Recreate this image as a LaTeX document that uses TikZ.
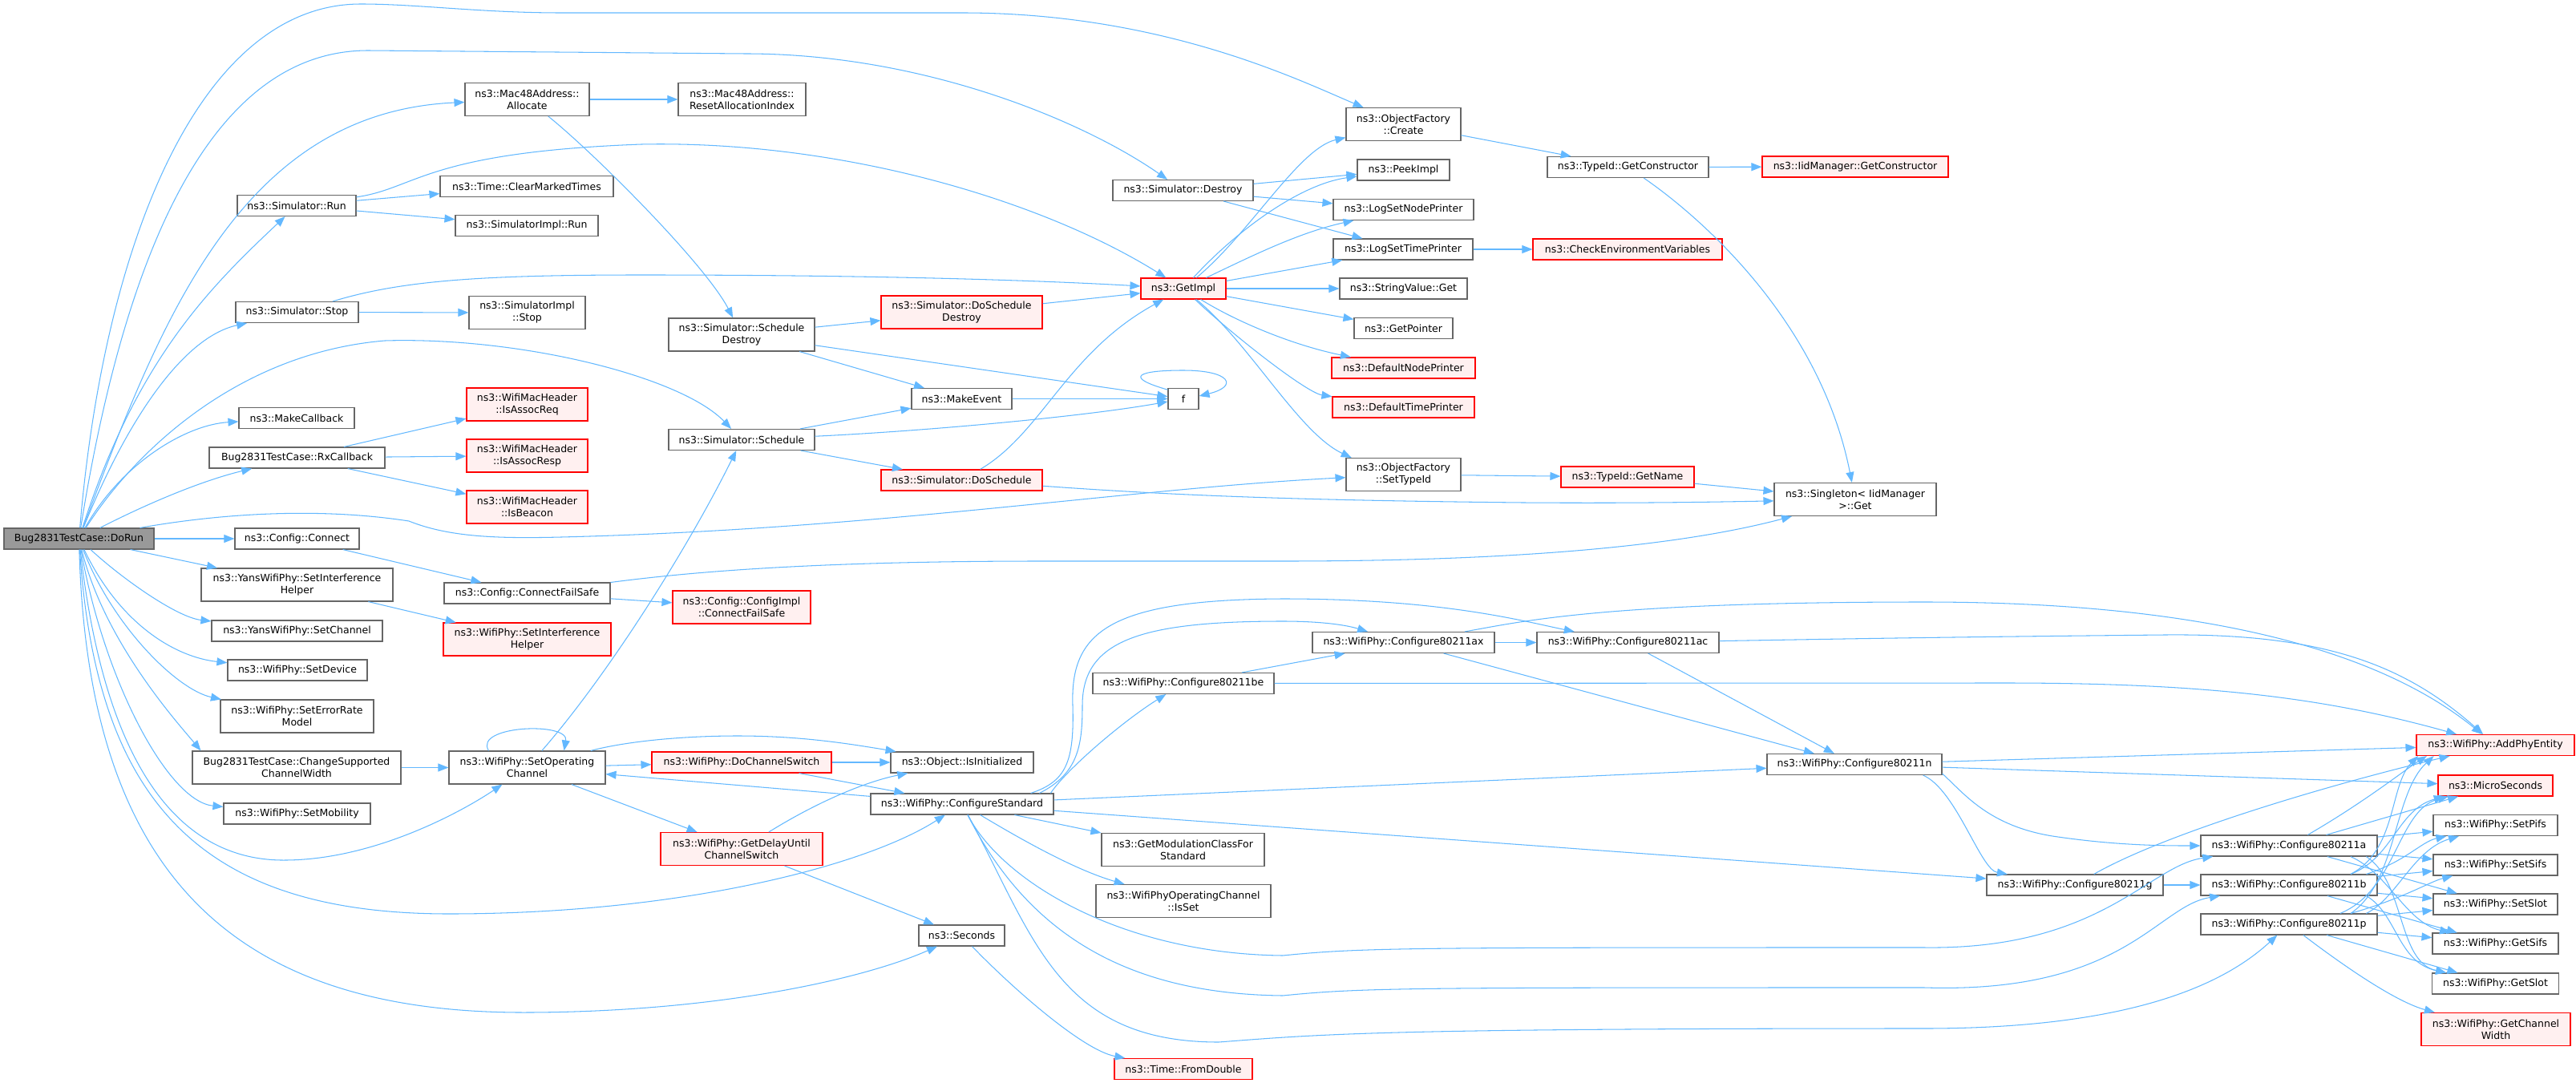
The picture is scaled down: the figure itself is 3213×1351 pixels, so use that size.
\documentclass[tikz,border=0pt]{standalone}
\usepackage{fontspec}
\newfontfamily\fnfont{DejaVu Sans}
\usetikzlibrary{positioning}
\usetikzlibrary{arrows.meta}
\usetikzlibrary{calc}
\definecolor{edge-blue}{HTML}{63B8FF}
\definecolor{node-gray}{HTML}{666666}
\definecolor{trunc-fill}{HTML}{FFF0F0}
\definecolor{root-fill}{HTML}{999999}
\tikzset{
  func-box/.style={draw=node-gray, fill=white, line width=1.1pt, minimum height=26pt,
    inner sep=1pt, align=center, font=\fnfont\fontsize{12.5}{15}\selectfont},
  func-trunc/.style={func-box, draw=red, fill=trunc-fill},
  func-root/.style={func-box, fill=root-fill},
  two-line/.style={minimum height=41pt},
  call-path/.style={draw=edge-blue, line width=1.05pt, -{Triangle[length=13pt,width=10pt]}},
}
\begin{document}
\begin{tikzpicture}[x=1pt, y=-1pt]
\useasboundingbox (0,0) rectangle (3213,1351);
% root
\node[func-root, minimum width=187pt] (dorun) at (98.5,672) {Bug2831TestCase::DoRun};
% second column
\node[func-box, minimum width=148pt] (simrun) at (370,256.5) {ns3::Simulator::Run};
\node[func-box, minimum width=153pt] (simstop) at (370.5,389.5) {ns3::Simulator::Stop};
\node[func-box, minimum width=144pt] (mkcb) at (370,521.5) {ns3::MakeCallback};
\node[func-box, minimum width=219pt] (rxcb) at (370.5,571) {Bug2831TestCase::RxCallback};
\node[func-box, minimum width=155pt] (connect) at (370.5,672) {ns3::Config::Connect};
\node[func-box, two-line, minimum width=239pt] (yanssih) at (370.5,729.5) {ns3::YansWifiPhy::SetInterference\\Helper};
\node[func-box, minimum width=213pt] (yanschan) at (370.5,787) {ns3::YansWifiPhy::SetChannel};
\node[func-box, minimum width=174pt] (setdev) at (371,836) {ns3::WifiPhy::SetDevice};
\node[func-box, two-line, minimum width=191pt] (seterr) at (370.5,893.5) {ns3::WifiPhy::SetErrorRate\\Model};
\node[func-box, two-line, minimum width=260pt] (chgcw) at (370,957.5) {Bug2831TestCase::ChangeSupported\\ChannelWidth};
\node[func-box, minimum width=183pt] (setmob) at (370.5,1015) {ns3::WifiPhy::SetMobility};
% third column
\node[func-box, two-line, minimum width=155pt] (alloc) at (657.5,124) {ns3::Mac48Address::\\Allocate};
\node[func-box, minimum width=216pt] (clrmark) at (657,232.5) {ns3::Time::ClearMarkedTimes};
\node[func-box, minimum width=178pt] (implrun) at (657,281.5) {ns3::SimulatorImpl::Run};
\node[func-box, two-line, minimum width=145pt] (implstop) at (657.5,390) {ns3::SimulatorImpl\\::Stop};
\node[func-trunc, two-line, minimum width=151pt] (assocreq) at (657.5,504.5) {ns3::WifiMacHeader\\::IsAssocReq};
\node[func-trunc, two-line, minimum width=151pt] (assocresp) at (657.5,568.5) {ns3::WifiMacHeader\\::IsAssocResp};
\node[func-trunc, two-line, minimum width=151pt] (beacon) at (657.5,632.5) {ns3::WifiMacHeader\\::IsBeacon};
\node[func-box, minimum width=207pt] (failsafe) at (657.5,740) {ns3::Config::ConnectFailSafe};
\node[func-trunc, two-line, minimum width=209pt] (physih) at (657.5,797.5) {ns3::WifiPhy::SetInterference\\Helper};
\node[func-box, two-line, minimum width=195pt] (setoc) at (657.5,957.5) {ns3::WifiPhy::SetOperating\\Channel};
% fourth column
\node[func-box, two-line, minimum width=159pt] (resetidx) at (925.5,124) {ns3::Mac48Address::\\ResetAllocationIndex};
\node[func-box, two-line, minimum width=182pt] (schedd) at (925,417.5) {ns3::Simulator::Schedule\\Destroy};
\node[func-box, minimum width=182pt] (sched) at (925,548.5) {ns3::Simulator::Schedule};
\node[func-trunc, two-line, minimum width=172pt] (cfgimpl) at (925,757.5) {ns3::Config::ConfigImpl\\::ConnectFailSafe};
\node[func-trunc, minimum width=224pt] (dochsw) at (925,951) {ns3::WifiPhy::DoChannelSwitch};
\node[func-trunc, two-line, minimum width=202pt] (getdelay) at (925,1059) {ns3::WifiPhy::GetDelayUntil\\ChannelSwitch};
% fifth column
\node[func-trunc, two-line, minimum width=201pt] (dosd) at (1199.5,389.5) {ns3::Simulator::DoSchedule\\Destroy};
\node[func-box, minimum width=125pt] (mkevent) at (1199.5,497.5) {ns3::MakeEvent};
\node[func-trunc, minimum width=201pt] (dosched) at (1199.5,599) {ns3::Simulator::DoSchedule};
\node[func-box, minimum width=178pt] (isinit) at (1200,951) {ns3::Object::IsInitialized};
\node[func-box, minimum width=228pt] (cfgstd) at (1200,1003) {ns3::WifiPhy::ConfigureStandard};
\node[func-box, minimum width=107pt] (seconds) at (1199.5,1167) {ns3::Seconds};
% sixth column
\node[func-box, minimum width=175pt] (destroy) at (1475.5,237.5) {ns3::Simulator::Destroy};
\node[func-trunc, minimum width=106pt] (getimpl) at (1476,360) {ns3::GetImpl};
\node[func-box, minimum width=38pt] (f) at (1476,497.5) {f};
\node[func-box, minimum width=226pt] (c11be) at (1476,852.5) {ns3::WifiPhy::Configure80211be};
\node[func-box, two-line, minimum width=203pt] (getmod) at (1475.5,1060) {ns3::GetModulationClassFor\\Standard};
\node[func-box, two-line, minimum width=218pt] (isset) at (1476,1124) {ns3::WifiPhyOperatingChannel\\::IsSet};
\node[func-trunc, minimum width=172pt] (fromdbl) at (1476,1333.5) {ns3::Time::FromDouble};
% seventh column
\node[func-box, two-line, minimum width=143pt] (create) at (1750.5,155) {ns3::ObjectFactory\\::Create};
\node[func-box, minimum width=115pt] (peek) at (1750.5,212) {ns3::PeekImpl};
\node[func-box, minimum width=175pt] (lognode) at (1750.5,261.5) {ns3::LogSetNodePrinter};
\node[func-box, minimum width=174pt] (logtime) at (1750,311) {ns3::LogSetTimePrinter};
\node[func-box, minimum width=159pt] (strget) at (1750.5,360) {ns3::StringValue::Get};
\node[func-box, minimum width=123pt] (getptr) at (1750.5,409.5) {ns3::GetPointer};
\node[func-trunc, minimum width=179pt] (defnode) at (1750.5,459) {ns3::DefaultNodePrinter};
\node[func-trunc, minimum width=177pt] (deftime) at (1750.5,508) {ns3::DefaultTimePrinter};
\node[func-box, two-line, minimum width=143pt] (settid) at (1750.5,592) {ns3::ObjectFactory\\::SetTypeId};
\node[func-box, minimum width=227pt] (c11ax) at (1750.5,801.5) {ns3::WifiPhy::Configure80211ax};
% eighth column
\node[func-box, minimum width=201pt] (getctor) at (2030.5,208.5) {ns3::TypeId::GetConstructor};
\node[func-trunc, minimum width=236pt] (checkenv) at (2030,311) {ns3::CheckEnvironmentVariables};
\node[func-trunc, minimum width=166pt] (getname) at (2030,595) {ns3::TypeId::GetName};
\node[func-box, minimum width=227pt] (c11ac) at (2030.5,801.5) {ns3::WifiPhy::Configure80211ac};
% ninth column
\node[func-trunc, minimum width=232pt] (iidctor) at (2314,208) {ns3::IidManager::GetConstructor};
\node[func-box, two-line, minimum width=202pt] (single) at (2314,623) {ns3::Singleton< IidManager\\ >::Get};
\node[func-box, minimum width=218pt] (c11n) at (2313,953.5) {ns3::WifiPhy::Configure80211n};
% 802.11 standards
\node[func-box, minimum width=220pt] (c11g) at (2588,1104) {ns3::WifiPhy::Configure80211g};
\foreach \nm/\yy in {a/1055, b/1104, p/1153}
  \node[func-box, minimum width=220pt] (c11\nm) at (2855,\yy) {ns3::WifiPhy::Configure80211\nm};
% last column
\node[func-trunc, minimum width=197pt] (addphy) at (3112.5,929.5) {ns3::WifiPhy::AddPhyEntity};
\node[func-trunc, minimum width=143pt] (micro) at (3112.5,980) {ns3::MicroSeconds};
\foreach \nm/\txt/\yy/\ww in {setpifs/SetPifs/1029.5/155, setsifs/SetSifs/1079/155,
    setslot/SetSlot/1128/155, getsifs/GetSifs/1177/157, getslot/GetSlot/1227/158}
  \node[func-box, minimum width=\ww pt] (\nm) at (3112.5,\yy) {ns3::WifiPhy::\txt};
\node[func-trunc, two-line, minimum width=186pt] (getcw) at (3113,1284) {ns3::WifiPhy::GetChannel\\Width};

% calls from DoRun
\draw[call-path] (dorun) .. controls (130,300) and (250,5) .. (450,5) .. controls (520,5) and (600,16) .. (700,16) -- (1200,16) .. controls (1450,16) and (1620,100) .. (create);
\draw[call-path] (dorun) .. controls (150,350) and (250,63) .. (459,63) -- (930,67) .. controls (1150,67) and (1350,150) .. (destroy);
\draw[call-path] (dorun) .. controls (200,400) and (300,140) .. (alloc);
\draw[call-path] (dorun) .. controls (170,450) and (260,360) .. (simrun);
\draw[call-path] (dorun) .. controls (160,520) and (230,420) .. (simstop);
\draw[call-path] (dorun) .. controls (170,560) and (300,440) .. (480,425) .. controls (650,420) and (850,470) .. (sched);
\draw[call-path] (dorun) .. controls (150,580) and (230,530) .. (mkcb);
\draw[call-path] (dorun) .. controls (180,630) and (250,600) .. (rxcb);
\draw[call-path] (dorun) .. controls (250,645) and (380,630) .. (510,650) .. controls (560,670) and (620,672) .. (700,670) .. controls (1100,660) and (1400,610) .. (settid);
\draw[call-path] (dorun) -- (connect);
\draw[call-path] (dorun) -- (yanssih);
\draw[call-path] (dorun) .. controls (150,720) and (220,770) .. (yanschan);
\draw[call-path] (dorun) .. controls (150,780) and (220,820) .. (setdev);
\draw[call-path] (dorun) .. controls (140,780) and (220,860) .. (seterr);
\draw[call-path] (dorun) .. controls (130,800) and (220,900) .. (chgcw.170);
\draw[call-path] (dorun) .. controls (130,850) and (210,1000) .. (setmob);
\draw[call-path] (dorun) .. controls (130,950) and (220,1075) .. (357,1073) .. controls (470,1072) and (580,1010) .. (setoc);
\draw[call-path] (dorun) .. controls (120,1000) and (250,1140) .. (560,1140) .. controls (850,1140) and (1080,1080) .. (cfgstd);
\draw[call-path] (dorun) .. controls (110,1100) and (300,1265) .. (660,1263) .. controls (900,1262) and (1080,1220) .. (seconds);

% simulator calls
\draw[call-path] (alloc) -- (resetidx);
\draw[call-path] (alloc) .. controls (740,190) and (880,330) .. (schedd);
\draw[call-path] (simrun) -- (clrmark);
\draw[call-path] (simrun) -- (implrun);
\draw[call-path] (simrun) .. controls (520,235) and (530,190) .. (800,180) .. controls (1050,175) and (1300,250) .. (getimpl);
\draw[call-path] (simstop) -- (implstop);
\draw[call-path] (simstop) .. controls (500,350) and (600,343) .. (800,343) .. controls (1100,343) and (1300,350) .. (getimpl);
\draw[call-path] (destroy) -- (peek);
\draw[call-path] (destroy) -- (lognode);
\draw[call-path] (destroy) -- (logtime);
\draw[call-path] (schedd) -- (dosd);
\draw[call-path] (schedd) -- (mkevent);
\draw[call-path] (schedd) -- (f);
\draw[call-path] (sched) -- (mkevent);
\draw[call-path] (sched) .. controls (1150,538) and (1350,520) .. (f);
\draw[call-path] (sched) -- (dosched);
\draw[call-path] (mkevent) -- (f);
\draw[call-path] (f.150) .. controls (1400,470) and (1420,462) .. (1476,462) .. controls (1535,462) and (1545,482) .. (f.10);
\draw[call-path] (dosd) -- (getimpl);
\draw[call-path] (dosched) .. controls (1300,540) and (1330,440) .. (getimpl);
\draw[call-path] (dosched) .. controls (1450,617) and (1600,624) .. (1900,627) .. controls (2050,628) and (2150,626) .. (single);

% GetImpl and below
\draw[call-path] (getimpl) .. controls (1560,290) and (1620,185) .. (create);
\draw[call-path] (getimpl) .. controls (1540,290) and (1620,230) .. (peek);
\draw[call-path] (getimpl) .. controls (1560,320) and (1620,290) .. (lognode);
\draw[call-path] (getimpl) -- (logtime);
\draw[call-path] (getimpl) -- (strget);
\draw[call-path] (getimpl) -- (getptr);
\draw[call-path] (getimpl) .. controls (1540,400) and (1610,430) .. (defnode);
\draw[call-path] (getimpl) .. controls (1540,420) and (1630,490) .. (deftime);
\draw[call-path] (getimpl) .. controls (1560,430) and (1620,540) .. (settid.162);
\draw[call-path] (create) -- (getctor);
\draw[call-path] (getctor) -- (iidctor);
\draw[call-path] (getctor) .. controls (2120,270) and (2270,400) .. (single);
\draw[call-path] (logtime) -- (checkenv);
\draw[call-path] (settid) -- (getname);
\draw[call-path] (getname) -- (single);

% callbacks and config
\draw[call-path] (rxcb) -- (assocreq);
\draw[call-path] (rxcb) -- (assocresp);
\draw[call-path] (rxcb) -- (beacon);
\draw[call-path] (connect) -- (failsafe);
\draw[call-path] (failsafe) -- (cfgimpl);
\draw[call-path] (failsafe) .. controls (850,715) and (1000,700) .. (1300,700) -- (1600,700) .. controls (1900,700) and (2100,680) .. (single);
\draw[call-path] (yanssih) -- (physih);

% operating channel
\draw[call-path] (chgcw) -- (setoc);
\draw[call-path] ($(setoc.north)+(-48,0)$) .. controls (590,905) and (710,900) .. ($(setoc.north)+(46,0)$);
\draw[call-path] (setoc) .. controls (760,840) and (860,680) .. (sched);
\draw[call-path] (setoc) -- (dochsw);
\draw[call-path] (setoc) .. controls (780,925) and (850,918) .. (920,918) .. controls (1000,918) and (1060,928) .. (isinit);
\draw[call-path] (setoc) -- (getdelay);
\draw[call-path] (cfgstd) -- (setoc);
\draw[call-path] (dochsw) -- (isinit);
\draw[call-path] (dochsw) -- (cfgstd);
\draw[call-path] (getdelay) .. controls (1020,1000) and (1080,975) .. (isinit);
\draw[call-path] (getdelay) -- (seconds);
\draw[call-path] (seconds) .. controls (1260,1230) and (1350,1310) .. (fromdbl);

% ConfigureStandard
\draw[call-path] (cfgstd) -- (getmod);
\draw[call-path] (cfgstd) .. controls (1270,1045) and (1340,1085) .. (isset);
\draw[call-path] (cfgstd.7) .. controls (1330,960) and (1400,900) .. (c11be);
\draw[call-path] (cfgstd.9) .. controls (1330,975) and (1340,950) .. (1338,880) .. controls (1335,790) and (1380,748) .. (1600,747) .. controls (1800,747) and (1900,775) .. (c11ac);
\draw[call-path] (cfgstd.8) .. controls (1345,965) and (1350,930) .. (1350,880) .. controls (1350,800) and (1420,775) .. (1600,775) .. controls (1650,775) and (1680,780) .. (c11ax);
\draw[call-path] (cfgstd) -- (c11n);
\draw[call-path] (cfgstd) -- (c11g);
\draw[call-path] (cfgstd) .. controls (1250,1100) and (1400,1190) .. (1600,1192) .. controls (1700,1182) and (1750,1182) .. (2400,1182) .. controls (2620,1185) and (2680,1080) .. (c11a);
\draw[call-path] (cfgstd) .. controls (1280,1160) and (1400,1240) .. (1600,1242) .. controls (1700,1232) and (1750,1232) .. (2400,1232) .. controls (2650,1240) and (2690,1130) .. (c11b);
\draw[call-path] (cfgstd) .. controls (1290,1170) and (1320,1300) .. (1520,1300) .. controls (1650,1290) and (1720,1283) .. (2400,1283) .. controls (2600,1283) and (2750,1250) .. (c11p);

% 802.11 chain
\draw[call-path] (c11be) -- (2500,852) .. controls (2750,852) and (2900,870) .. (addphy);
\draw[call-path] (c11be) -- (c11ax);
\draw[call-path] (c11ax) -- (c11ac);
\draw[call-path] (c11ax) .. controls (1900,775) and (2000,751) .. (2400,751) .. controls (2800,751) and (2990,830) .. (addphy);
\draw[call-path] (c11ax) -- (c11n);
\draw[call-path] (c11ac) .. controls (2300,797) and (2400,795) .. (2700,792) .. controls (2900,790) and (3000,830) .. (addphy);
\draw[call-path] (c11ac) -- (c11n);
\draw[call-path] (c11n) -- (addphy);
\draw[call-path] (c11n) -- (micro);
\draw[call-path] (c11n.-9) .. controls (2440,985) and (2470,1085) .. (c11g);
\draw[call-path] (c11n.-6) .. controls (2450,990) and (2480,1030) .. (2560,1043) .. controls (2640,1055) and (2700,1055) .. (c11a);
\draw[call-path] (c11g) -- (c11b);
\draw[call-path] (c11g) .. controls (2700,1040) and (2900,980) .. (addphy);
\draw[call-path] (c11a) .. controls (2950,1000) and (3000,960) .. (addphy.-171);
\draw[call-path] (c11a) -- (micro);
\draw[call-path] (c11a) -- (setpifs);
\draw[call-path] (c11a) -- (setsifs);
\draw[call-path] (c11a) -- (setslot);
\draw[call-path] (c11a.-10) .. controls (2980,1090) and (3000,1150) .. (getsifs);
\draw[call-path] (c11a.-8) .. controls (3000,1100) and (2990,1200) .. (getslot);
\draw[call-path] (c11b.10) .. controls (2990,1060) and (2980,980) .. (addphy.-172);
\draw[call-path] (c11b.10) .. controls (2985,1070) and (2990,1010) .. (micro.-168);
\draw[call-path] (c11b.8) .. controls (3000,1075) and (3020,1050) .. (setpifs);
\draw[call-path] (c11b) -- (setsifs);
\draw[call-path] (c11b) -- (setslot);
\draw[call-path] (c11b) -- (getsifs);
\draw[call-path] (c11b.-8) .. controls (2990,1140) and (2990,1200) .. (getslot);
\draw[call-path] (c11p.10) .. controls (2990,1100) and (2985,990) .. (addphy.-170);
\draw[call-path] (c11p.12) .. controls (2990,1110) and (2990,1010) .. (micro.-167);
\draw[call-path] (c11p.8) .. controls (2990,1120) and (3010,1060) .. (setpifs);
\draw[call-path] (c11p.10) .. controls (3000,1120) and (3030,1100) .. (setsifs);
\draw[call-path] (c11p) -- (setslot);
\draw[call-path] (c11p) -- (getsifs);
\draw[call-path] (c11p) -- (getslot);
\draw[call-path] (c11p) .. controls (2930,1210) and (2990,1250) .. (getcw);
\end{tikzpicture}
\end{document}
